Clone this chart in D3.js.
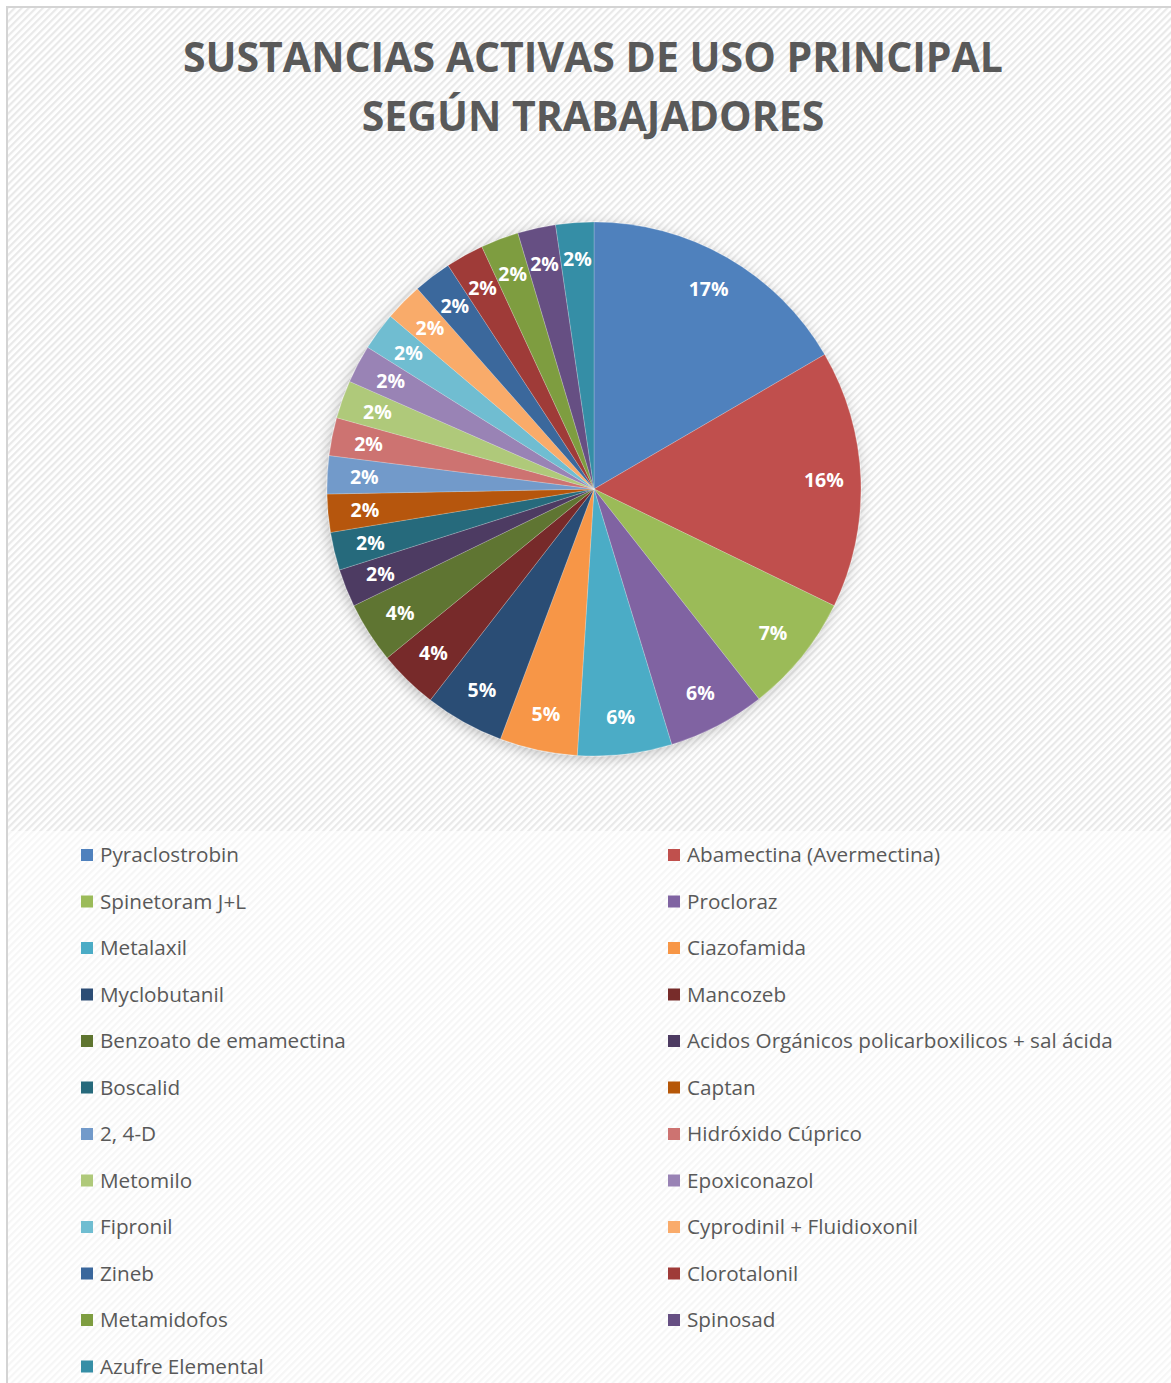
<!DOCTYPE html>
<html>
<head>
<meta charset="utf-8">
<script src="https://cdn.jsdelivr.net/npm/d3@7"></script>
<style>
  html, body { margin: 0; padding: 0; background: #fff; }
  svg { display: block; }
</style>
</head>
<body>
<div id="chart"></div>
<script>
// datos (porcentaje aproximado de cada sector)
var sustancias = [
  "Pyraclostrobin", "Abamectina (Avermectina)", "Spinetoram J+L", "Procloraz",
  "Metalaxil", "Ciazofamida", "Myclobutanil", "Mancozeb",
  "Benzoato de emamectina", "Acidos Orgánicos policarboxilicos + sal ácida", "Boscalid", "Captan",
  "2, 4-D", "Hidróxido Cúprico", "Metomilo", "Epoxiconazol",
  "Fipronil", "Cyprodinil + Fluidioxonil", "Zineb", "Clorotalonil",
  "Metamidofos", "Spinosad", "Azufre Elemental"
];
var valores = [16.6, 15.6, 7.2, 5.9, 5.7, 4.7, 4.8, 3.6, 3.7,
  2.3, 2.3, 2.3, 2.3, 2.3, 2.3, 2.3, 2.3, 2.3, 2.3, 2.3, 2.3, 2.3, 2.3];
var colores = [
  "#4F81BD", "#C0504D", "#9BBB59", "#8064A2", "#4BACC6", "#F79646",
  "#2C4D75", "#772C2A", "#5F7530", "#4D3B62", "#276A7C", "#B65708",
  "#729ACA", "#CD7371", "#AFC97A", "#9983B5", "#6FBDD1", "#F9AB6B",
  "#3A679C", "#9F3B38", "#7E9D40", "#664F83", "#358EA6"
];
var titulo = ["SUSTANCIAS ACTIVAS DE USO PRINCIPAL", "SEGÚN TRABAJADORES"];

var width = 1171, height = 1383;
var cx = 594, cy = 489, radius = 267;

var datos = sustancias.map(function (s, i) { return { nombre: s, valor: valores[i], color: colores[i] }; });
var total = d3.sum(valores);

var svg = d3.select("#chart").append("svg")
  .attr("width", width).attr("height", height);

var defs = svg.append("defs");

// rayado diagonal del fondo (área del gráfico y de la leyenda)
function rayado(id, color) {
  var p = defs.append("pattern")
    .attr("id", id)
    .attr("patternUnits", "userSpaceOnUse")
    .attr("width", 5).attr("height", 5)
    .attr("patternTransform", "rotate(-45)");
  p.append("rect").attr("width", 5).attr("height", 5).attr("fill", "#fff");
  p.append("rect").attr("width", 5).attr("height", 2.2).attr("fill", color);
}
rayado("rayas", "#e9e9e9");
rayado("rayasClaras", "#f6f6f6");

var sombra = defs.append("filter").attr("id", "sombra")
  .attr("x", "-20%").attr("y", "-20%").attr("width", "140%").attr("height", "140%");
sombra.append("feDropShadow")
  .attr("dx", -2).attr("dy", 3).attr("stdDeviation", 7)
  .attr("flood-color", "#000").attr("flood-opacity", 0.22);

svg.append("rect").attr("x", 0).attr("y", 0).attr("width", width).attr("height", height).attr("fill", "#fff");
svg.append("rect").attr("x", 7).attr("y", 7).attr("width", width).attr("height", height)
  .attr("fill", "url(#rayasClaras)");
svg.append("rect").attr("x", 7).attr("y", 7).attr("width", width).attr("height", 824)
  .attr("fill", "url(#rayas)");
// borde del gráfico
svg.append("path")
  .attr("d", "M7," + height + "V7H" + width)
  .attr("fill", "none").attr("stroke", "#d4d4d4").attr("stroke-width", 2);

// título
svg.append("text")
  .attr("x", 593).attr("y", 72)
  .attr("text-anchor", "middle")
  .attr("font-family", "'Open Sans', sans-serif")
  .attr("font-weight", "bold")
  .attr("font-size", 41)
  .attr("fill", "#595959")
  .selectAll("tspan")
  .data(titulo)
  .join("tspan")
  .attr("x", 593)
  .attr("dy", function (d, i) { return i === 0 ? 0 : 59; })
  .text(function (d) { return d; });

// pastel
var pie = d3.pie().sort(null).value(function (d) { return d.valor; });
var arc = d3.arc().innerRadius(0).outerRadius(radius);
var arcEtiqueta = d3.arc().innerRadius(230).outerRadius(230);
var formato = d3.format(".0%");

var g = svg.append("g").attr("transform", "translate(" + cx + "," + cy + ")");

g.append("g").attr("filter", "url(#sombra)")
  .selectAll("path")
  .data(pie(datos))
  .join("path")
  .attr("d", arc)
  .attr("fill", function (d) { return d.data.color; })
  .attr("stroke", "rgba(255,255,255,0.35)")
  .attr("stroke-width", 0.6);

g.selectAll("text.etiqueta")
  .data(pie(datos))
  .join("text")
  .attr("class", "etiqueta")
  .attr("transform", function (d) {
    var c = arcEtiqueta.centroid(d);
    return "translate(" + c[0] + "," + c[1] + ")";
  })
  .attr("text-anchor", "middle")
  .attr("dy", "0.35em")
  .attr("font-family", "'Open Sans', sans-serif")
  .attr("font-weight", "bold")
  .attr("font-size", 19.5)
  .attr("fill", "#fff")
  .text(function (d) { return formato(d.data.valor / total); });

// leyenda en dos columnas
var columnas = [81, 668];
var y0 = 855, paso = 46.5;

var leyenda = svg.append("g").selectAll("g")
  .data(datos)
  .join("g")
  .attr("transform", function (d, i) {
    return "translate(" + columnas[i % 2] + "," + (y0 + Math.floor(i / 2) * paso) + ")";
  });

leyenda.append("rect")
  .attr("x", 0).attr("y", -6)
  .attr("width", 12).attr("height", 12)
  .attr("fill", function (d) { return d.color; });

leyenda.append("text")
  .attr("x", 19).attr("dy", "0.36em")
  .attr("font-family", "'Open Sans', sans-serif")
  .attr("font-size", 20.7)
  .attr("fill", "#595959")
  .text(function (d) { return d.nombre; });
</script>
</body>
</html>
